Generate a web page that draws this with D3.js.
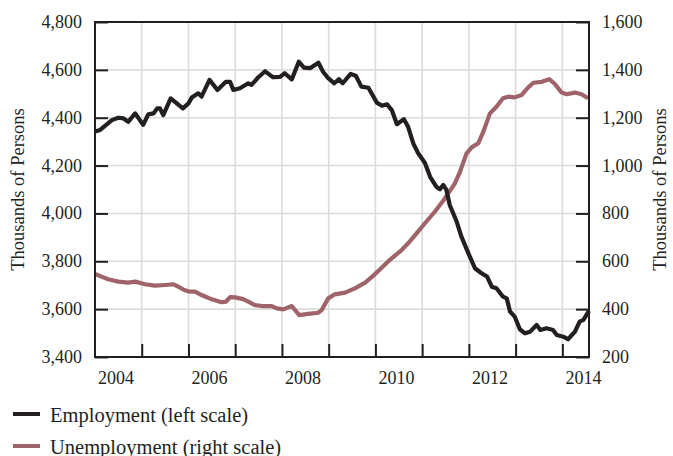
<!DOCTYPE html>
<html>
<head>
<meta charset="utf-8">
<script src="https://cdn.jsdelivr.net/npm/d3@7"></script>
<style>
  body { margin: 0; background: #fff; }
  text { font-family: "Liberation Serif", "DejaVu Serif", serif; fill: #231f20; }
</style>
</head>
<body>
<div id="chart"></div>
<script>
// Employment (thousands, left scale)
const empYears = [2004.00, 2004.11, 2004.24, 2004.36, 2004.50, 2004.61, 2004.71, 2004.86, 2005.03, 2005.14,
  2005.25, 2005.33, 2005.39, 2005.46, 2005.62, 2005.75, 2005.88, 2006.00, 2006.07, 2006.21,
  2006.28, 2006.45, 2006.62, 2006.80, 2006.89, 2006.96, 2007.10, 2007.28, 2007.35, 2007.49,
  2007.64, 2007.74, 2007.81, 2007.96, 2008.06, 2008.21, 2008.36, 2008.47, 2008.60, 2008.78,
  2008.88, 2008.99, 2009.12, 2009.22, 2009.30, 2009.47, 2009.58, 2009.70, 2009.85, 2010.03,
  2010.14, 2010.25, 2010.35, 2010.46, 2010.61, 2010.70, 2010.81, 2010.91, 2011.06, 2011.17,
  2011.31, 2011.38, 2011.45, 2011.52, 2011.59, 2011.74, 2011.84, 2011.99, 2012.13, 2012.27,
  2012.39, 2012.49, 2012.59, 2012.73, 2012.81, 2012.88, 2012.98, 2013.09, 2013.20, 2013.31,
  2013.45, 2013.53, 2013.66, 2013.80, 2013.88, 2014.02, 2014.12, 2014.27, 2014.37, 2014.45,
  2014.57];
const empValues = [4342, 4349, 4370, 4390, 4400, 4397, 4383, 4418, 4370, 4414,
  4418, 4439, 4439, 4411, 4481, 4460, 4439, 4460, 4484, 4502,
  4488, 4558, 4516, 4550, 4550, 4516, 4523, 4544, 4537, 4568,
  4594, 4579, 4569, 4571, 4586, 4560, 4634, 4609, 4607, 4630,
  4592, 4565, 4544, 4561, 4544, 4583, 4575, 4530, 4525, 4463,
  4450, 4456, 4432, 4373, 4394, 4362, 4293, 4253, 4211, 4153,
  4110, 4101, 4119, 4098, 4035, 3965, 3903, 3833, 3771, 3750,
  3736, 3694, 3687, 3652, 3645, 3590, 3569, 3516, 3499, 3506,
  3534, 3513, 3520, 3513, 3492, 3485, 3474, 3506, 3548, 3555,
  3593];

// Unemployment (thousands, right scale)
const unempYears = [2004.00, 2004.14, 2004.28, 2004.50, 2004.71, 2004.86, 2005.07, 2005.28, 2005.50, 2005.68,
  2005.78, 2005.91, 2006.03, 2006.14, 2006.28, 2006.50, 2006.71, 2006.80, 2006.89, 2007.00,
  2007.17, 2007.28, 2007.42, 2007.57, 2007.78, 2007.89, 2008.03, 2008.21, 2008.31, 2008.37,
  2008.56, 2008.78, 2008.85, 2008.99, 2009.13, 2009.35, 2009.56, 2009.78, 2009.95, 2010.10,
  2010.31, 2010.56, 2010.70, 2010.88, 2011.06, 2011.27, 2011.45, 2011.63, 2011.70, 2011.81,
  2011.95, 2012.06, 2012.20, 2012.31, 2012.45, 2012.59, 2012.73, 2012.84, 2012.98, 2013.13,
  2013.27, 2013.38, 2013.56, 2013.72, 2013.84, 2013.98, 2014.09, 2014.27, 2014.41, 2014.55];
const unempValues = [547, 536, 525, 515, 511, 515, 504, 498, 501, 504,
  494, 480, 473, 473, 459, 441, 429, 431, 450, 449,
  442, 431, 417, 413, 413, 403, 399, 413, 389, 375,
  380, 385, 396, 445, 462, 469, 487, 511, 539, 567,
  606, 647, 675, 717, 759, 807, 853, 905, 926, 974,
  1051, 1076, 1093, 1142, 1218, 1246, 1281, 1288, 1285, 1295,
  1327, 1346, 1350, 1361, 1341, 1306, 1298, 1305, 1298, 1281];

const leftTicks = [3400, 3600, 3800, 4000, 4200, 4400, 4600, 4800];
const rightTicks = [200, 400, 600, 800, 1000, 1200, 1400, 1600];
const gridYears = [2005, 2006, 2007, 2008, 2009, 2010, 2011, 2012, 2013, 2014];
const yearLabels = [2004, 2006, 2008, 2010, 2012, 2014];
const seriesNames = ["Employment (left scale)", "Unemployment (right scale)"];
const seriesColors = ["#231f20", "#9f636a"];

const width = 673, height = 456;
const margin = { top: 22, right: 84, bottom: 99, left: 95 };
const x0 = margin.left, x1 = width - margin.right;
const y0 = height - margin.bottom, y1 = margin.top;

const svg = d3.select("#chart").append("svg")
  .attr("width", width).attr("height", height);

const x = d3.scaleLinear().domain([2004, 2014.57]).range([x0, x1]);
const yL = d3.scaleLinear().domain([3400, 4800]).range([y0, y1]);
const yR = d3.scaleLinear().domain([200, 1600]).range([y0, y1]);

// grid
svg.append("g").selectAll("line").data(gridYears).enter().append("line")
  .attr("x1", d => x(d)).attr("x2", d => x(d))
  .attr("y1", y1).attr("y2", y0)
  .attr("stroke", "#dcdcdc").attr("stroke-width", 1.6);
svg.append("g").selectAll("line").data(leftTicks.slice(1, -1)).enter().append("line")
  .attr("x1", x0).attr("x2", x1)
  .attr("y1", d => yL(d)).attr("y2", d => yL(d))
  .attr("stroke", "#dcdcdc").attr("stroke-width", 1.6);

// lines
const empLine = d3.line().x((d, i) => x(empYears[i])).y(d => yL(d)).curve(d3.curveLinear);
const unempLine = d3.line().x((d, i) => x(unempYears[i])).y(d => yR(d)).curve(d3.curveLinear);

svg.append("path").datum(unempValues).attr("d", unempLine)
  .attr("fill", "none").attr("stroke", seriesColors[1])
  .attr("stroke-width", 4.2).attr("stroke-linejoin", "round");
svg.append("path").datum(empValues).attr("d", empLine)
  .attr("fill", "none").attr("stroke", seriesColors[0])
  .attr("stroke-width", 4.2).attr("stroke-linejoin", "round");

// frame
svg.append("rect").attr("x", x0).attr("y", y1)
  .attr("width", x1 - x0).attr("height", y0 - y1)
  .attr("fill", "none").attr("stroke", "#231f20").attr("stroke-width", 2);

// axes with inward ticks
const leftAxis = svg.append("g").attr("transform", `translate(${x0},0)`)
  .call(d3.axisRight(yL).tickValues(leftTicks).tickSize(13).tickFormat(""));
leftAxis.select(".domain").remove();
leftAxis.selectAll("line").attr("stroke", "#231f20").attr("stroke-width", 2);
svg.append("g").selectAll("text").data(leftTicks).enter().append("text")
  .attr("x", x0 - 13).attr("y", d => yL(d) + 6)
  .attr("text-anchor", "end").style("font-size", "18px")
  .text(d => d3.format(",")(d));

const rightAxis = svg.append("g").attr("transform", `translate(${x1},0)`)
  .call(d3.axisLeft(yR).tickValues(rightTicks).tickSize(13).tickFormat(""));
rightAxis.select(".domain").remove();
rightAxis.selectAll("line").attr("stroke", "#231f20").attr("stroke-width", 2);
svg.append("g").selectAll("text").data(rightTicks).enter().append("text")
  .attr("x", x1 + 13).attr("y", d => yR(d) + 6)
  .attr("text-anchor", "start").style("font-size", "18px")
  .text(d => d3.format(",")(d));

const bottomAxis = svg.append("g").attr("transform", `translate(0,${y0})`)
  .call(d3.axisTop(x).tickValues(gridYears).tickSize(13).tickFormat(""));
bottomAxis.select(".domain").remove();
bottomAxis.selectAll("line").attr("stroke", "#231f20").attr("stroke-width", 2);
svg.append("g").selectAll("text").data(yearLabels).enter().append("text")
  .attr("x", d => x(d + 0.45)).attr("y", y0 + 27)
  .attr("text-anchor", "middle").style("font-size", "18px")
  .text(d => d);

// axis titles
svg.append("text")
  .attr("transform", `translate(24,${(y0 + y1) / 2}) rotate(-90)`)
  .attr("text-anchor", "middle").style("font-size", "18.5px")
  .text("Thousands of Persons");
svg.append("text")
  .attr("transform", `translate(666,${(y0 + y1) / 2}) rotate(-90)`)
  .attr("text-anchor", "middle").style("font-size", "18.5px")
  .text("Thousands of Persons");

// legend
const legend = svg.append("g").selectAll("g").data(seriesNames).enter().append("g")
  .attr("transform", (d, i) => `translate(13,${414 + i * 32})`);
legend.append("line").attr("x1", 0).attr("x2", 27)
  .attr("stroke", (d, i) => seriesColors[i]).attr("stroke-width", 4);
legend.append("text").attr("x", 37).attr("y", 7.5)
  .style("font-size", "20.5px").text(d => d);
</script>
</body>
</html>
